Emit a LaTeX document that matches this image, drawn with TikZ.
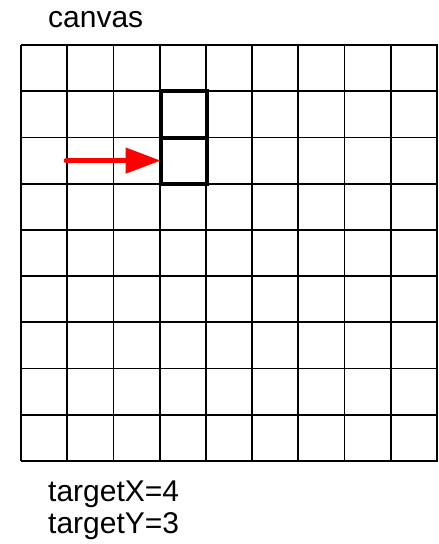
\documentclass[tikz,border=0pt]{standalone}
\usepackage{fontspec}
\setmainfont{Liberation Sans}
\usetikzlibrary{arrows.meta}
\begin{document}
\begin{tikzpicture}[x=1pt,y=-1pt,
  gridline/.style={line width=1.8pt, black},
  boldcell/.style={draw=black, line width=4pt, minimum width=46.2pt, minimum height=46.2pt, inner sep=0pt, outer sep=0pt},
  label/.style={anchor=base west, font=\fontsize{30}{34}\selectfont, inner sep=0pt},
  redarrow/.style={draw=red, line width=4.5pt, line cap=round, -{Triangle[length=35pt,width=25pt]}}]
\useasboundingbox (0,0) rectangle (439,544);
% grid
\foreach \i in {0,...,9}{
  \draw[gridline] ({21+\i*46.2},45) -- ({21+\i*46.2},460.8);
  \draw[gridline] (21,{45+\i*46.2}) -- (437.8,{45+\i*46.2});
}
% highlighted cells
\node[boldcell] (upper) at (183.7,114.4) {};
\node[boldcell] (target) at (183.7,160.6) {};
% arrow
\coordinate (start) at (66,160.6);
\draw[redarrow] (start) -- (target.west);
% texts
\node[label] (title) at (48,27) {canvas};
\node[label] (tx) at (48,501.7) {targetX=4};
\node[label] (ty) at (48,533.3) {targetY=3};
\end{tikzpicture}
\end{document}
